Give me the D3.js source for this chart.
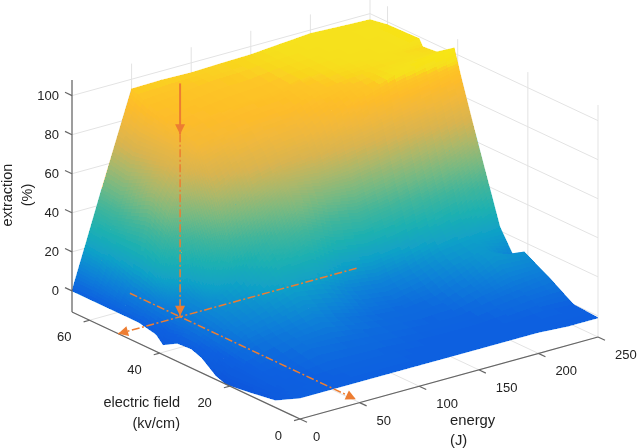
<!DOCTYPE html>
<html><head><meta charset="utf-8">
<script src="https://cdn.jsdelivr.net/npm/d3@7/dist/d3.min.js"></script>
<style>html,body{margin:0;padding:0;background:#fff}svg{display:block}text{font-family:"Liberation Sans",Arial,sans-serif;fill:#222}</style>
</head><body><svg id="c" width="638" height="448"></svg>
<script>
const energy=[0,10,25,50,75,100,125,150,175,200,225,250];
const field=[0,7,14,21,24,28,31,35,39,41,46,50,51,60,65];
const z00=[0,0,0,0,0,0,0,0,0,0,-1,-1];
const z07=[-7,-2,0,1,1,1,0,0,0,0,1,0];
const z14=[-9,0,1,5,4,3,2,1,1,4,6,8];
const z21=[-10.8,2,5,8,11,7,4,3,5,10,17,15];
const z24=[-8.7,3,8,11,15,12,7,5,8,14,18,10];
const z28=[-3,4,10,15,20,18,12,10,13,18,20,22];
const z31=[-1,5,12,17,28,30,22,20,22,26,30,40];
const z35=[-1.5,6,13,22,38,54,48,45,48,52,58,64];
const z39=[-5.6,7,14,50,64,68,70,75,78,82,85,89];
const z41=[-2,7,16,64,72,76,78,85,92,97,100,102.6];
const z46=[0,8,52,82,85,87,88,93,95,96,96.5,96.4];
const z50=[0,10,58,85,88,90,91,94,96,96.5,96.5,95.7];
const z51=[0,10,58,86,89,91,92,95,96,96.5,97,99];
const z60=[0,18,47,91,92.5,94.5,95,96,96.5,97.5,98,98.5];
const z65=[0,19,48,95,95.3,94.9,95.4,95.8,97,98.2,97.5,96.9];
const zGrid=[z00,z07,z14,z21,z24,z28,z31,z35,z39,z41,z46,z50,z51,z60,z65];
const zTicks=[0,20,40,60,80,100], fieldTicks=[0,20,40,60], energyTicks=[0,50,100,150,200,250];
const eMax=250,fMax=65,zMin=-10.8,zMax=108;
const colorStops=[-11,0,10,20,30,40,50,60,70,80,88,94,96.5,104];
const colorVals=["#0a56dc","#0a60e0","#0f80d8","#10a0c8","#1cb0b2","#3fb59c","#73b984","#a8b86c","#d8b450","#f0b83c","#fdbc2a","#fdc625","#f6e01a","#f8e818"];
const annE=28,annF=43.7;

const xE=d3.scaleLinear([0,eMax],[0,298]),yE=d3.scaleLinear([0,eMax],[0,-82]);
const xF=d3.scaleLinear([0,fMax],[0,-228]),yF=d3.scaleLinear([0,fMax],[0,-107]);
const zS=d3.scaleLinear([zMin,zMax],[0,-232]);
const color=d3.scaleLinear(colorStops,colorVals);
const P=(e,f,z)=>[300+xE(e)+xF(f),419+yE(e)+yF(f)+zS(z)];
const svg=d3.select("#c");
const defs=svg.append("defs");
defs.append("filter").attr("id","b").attr("x",0).attr("y",0).attr("width",1).attr("height",1).append("feGaussianBlur").attr("stdDeviation",0.5);
const root=svg.append("g").attr("filter","url(#b)");
const line=(a,b,c,w,d)=>root.append("line").attr("x1",a[0]).attr("y1",a[1]).attr("x2",b[0]).attr("y2",b[1]).attr("stroke",c).attr("stroke-width",w).attr("stroke-dasharray",d||null);
const G="#e3e3e3";
zTicks.forEach(z=>{line(P(0,fMax,z),P(eMax,fMax,z),G,1);line(P(eMax,fMax,z),P(eMax,0,z),G,1);});
energyTicks.forEach(e=>{line(P(e,fMax,zMin),P(e,fMax,zMax),G,1);line(P(e,0,zMin),P(e,fMax,zMin),G,1);});
fieldTicks.forEach(f=>{line(P(eMax,f,zMin),P(eMax,f,zMax),G,1);line(P(0,f,zMin),P(eMax,f,zMin),G,1);});
const bil=(i,j,u,v)=>{const a=zGrid[j][i],b=zGrid[j][i+1],c=zGrid[j+1][i],d=zGrid[j+1][i+1];return a*(1-u)*(1-v)+b*u*(1-v)+c*(1-u)*v+d*u*v;};
// antialiased coarse underlay closes the pinholes at the cell corners
const under=root.append("g");
for(let j=field.length-2;j>=0;j--)for(let i=energy.length-2;i>=0;i--){
 const c=color(bil(i,j,.5,.5));
 under.append("path").attr("d",d3.line()([P(energy[i],field[j],zGrid[j][i]),P(energy[i+1],field[j],zGrid[j][i+1]),P(energy[i+1],field[j+1],zGrid[j+1][i+1]),P(energy[i],field[j+1],zGrid[j+1][i])])+"Z").attr("fill",c).attr("stroke",c).attr("stroke-width",.5);
}
const gs=root.append("g").attr("shape-rendering","crispEdges");
const steps=r=>Math.max(3,Math.min(24,Math.ceil(r/1.5)));
for(let j=field.length-2;j>=0;j--)for(let i=energy.length-2;i>=0;i--){
 const a=zGrid[j][i],b=zGrid[j][i+1],c0=zGrid[j+1][i],d=zGrid[j+1][i+1];
 const Nu=steps(Math.max(Math.abs(b-a),Math.abs(d-c0))),Nv=steps(Math.max(Math.abs(c0-a),Math.abs(d-b)));
 const pt=(nn,mm)=>{const u=nn/Nu,v=mm/Nv;return P(energy[i]+(energy[i+1]-energy[i])*u,field[j]+(field[j+1]-field[j])*v,bil(i,j,u,v));};
 for(let m=Nv-1;m>=0;m--)for(let n=Nu-1;n>=0;n--){
  gs.append("path").attr("d",d3.line()([pt(n,m),pt(n+1,m),pt(n+1,m+1),pt(n,m+1)])+"Z").attr("fill",color(bil(i,j,(n+.5)/Nu,(m+.5)/Nv)));
 }
}
const A="#666";
line(P(0,fMax,zMin),P(0,fMax,zMax),A,1.2);line(P(0,fMax,zMin),P(0,0,zMin),A,1.2);line(P(0,0,zMin),P(eMax,0,zMin),A,1.2);
const text=(x,y,s,anchor,size)=>root.append("text").attr("x",x).attr("y",y).attr("text-anchor",anchor).attr("font-size",size||13).text(s);
zTicks.forEach(z=>{const p=P(0,fMax,z),q=P(0,fMax+2,z);line(p,q,A,1.2);text(p[0]-13,p[1]+4.5,z,"end");});
fieldTicks.forEach(f=>{const p=P(0,f,zMin),r=P(-5,f,zMin);line(p,r,A,1.2);text(p[0]-18,p[1]+21,f,"end");});
energyTicks.forEach(e=>{const p=P(e,0,zMin),q=P(e,-2,zMin);line(p,q,A,1.2);text(p[0]+(e?17:13),p[1]+22,e,"start");});
const rot=(x,y,s)=>root.append("text").attr("transform",`translate(${x},${y}) rotate(-90)`).attr("text-anchor","middle").attr("font-size",14.5).text(s);
rot(12,195,"extraction");rot(32,195,"(%)");
text(180,407,"electric field","end",14.5);text(180,428,"(kv/cm)","end",14.5);
text(450,425,"energy","start",14.8);text(450,445,"(J)","start",14.8);
const O="#ed7d31",DD="8,2.5,2,2.5";
const head=(p,dir)=>{const n=Math.hypot(dir[0],dir[1]),u=[dir[0]/n,dir[1]/n],s=[-u[1],u[0]],L=10,W=5;
 root.append("path").attr("d",d3.line()([p,[p[0]-u[0]*L+s[0]*W,p[1]-u[1]*L+s[1]*W],[p[0]-u[0]*L-s[0]*W,p[1]-u[1]*L-s[1]*W]])+"Z").attr("fill",O);};
const t=P(annE,annF,119.5),m=P(annE,annF,93.5),b=P(annE,annF,0);
line(t,m,O,2);head(m,[0,1]);line(m,b,O,1.5,DD);head([b[0],b[1]-1],[0,1]);
const a1=P(annE,58,0),a2=P(annE,-6.4,0),b1=P(176,annF,0),b2=P(-24,annF,0);
line(a1,a2,O,1.5,DD);head(a2,[a2[0]-a1[0],a2[1]-a1[1]]);
line(b1,b2,O,1.5,DD);head(b2,[b2[0]-b1[0],b2[1]-b1[1]]);
</script></body></html>
